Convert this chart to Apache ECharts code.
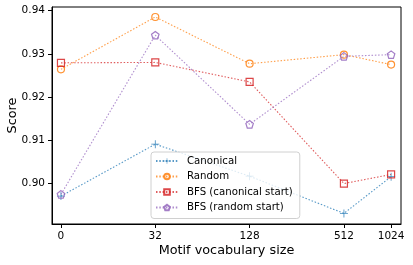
<!DOCTYPE html>
<html><head><meta charset="utf-8">
<script src="https://cdn.jsdelivr.net/npm/echarts@6/dist/echarts.min.js"></script>
<style>html,body{margin:0;padding:0;background:#fff}#c{width:413px;height:265px}</style>
</head><body><div id="c"></div>
<script>
var vocabSizes = [0, 32, 128, 512, 1024];
var yTicks = [0.90, 0.91, 0.92, 0.93, 0.94];
var seriesNames = ['Canonical', 'Random', 'BFS (canonical start)', 'BFS (random start)'];
var canonical = [0.8971, 0.9091, 0.9017, 0.8931, 0.9016];
var random = [0.9264, 0.9385, 0.9277, 0.9298, 0.9275];
var bfsCanonical = [0.9279, 0.9280, 0.9235, 0.9000, 0.9021];
var bfsRandom = [0.8975, 0.9343, 0.9137, 0.9294, 0.9298];
var colors = ['#1f77b4', '#ff7f0e', '#d62728', '#9467bd'];

// symlog-like base-2 scale: 0 sits two octaves left of 32
function xPos(v) { return v === 0 ? 3 : Math.log2(v); }
function xLabel(p) {
  for (var i = 0; i < vocabSizes.length; i++) if (Math.abs(xPos(vocabSizes[i]) - p) < 1e-6) return String(vocabSizes[i]);
  return '';
}
var plusPath = 'path://M-0.1,-1 L0.1,-1 L0.1,-0.1 L1,-0.1 L1,0.1 L0.1,0.1 L0.1,1 L-0.1,1 L-0.1,0.1 L-1,0.1 L-1,-0.1 L-0.1,-0.1 Z';
var pentPath = 'path://M0,-1 L0.951,-0.309 L0.588,0.809 L-0.588,0.809 L-0.951,-0.309 Z';
var symbols = [plusPath, 'circle', 'rect', pentPath];
var sizes = [8, 7, 7, 7.5];
var allData = [canonical, random, bfsCanonical, bfsRandom];

var series = allData.map(function (vals, i) {
  var hollow = i > 0;
  return {
    name: seriesNames[i], type: 'line',
    data: vals.map(function (v, j) { return [xPos(vocabSizes[j]), v]; }),
    symbol: symbols[i], symbolSize: sizes[i], showAllSymbol: true,
    lineStyle: { color: colors[i], width: 1.1, type: [1.5, 1.8], opacity: 0.75 },
    itemStyle: hollow ? { color: 'rgba(255,255,255,0)', borderColor: colors[i], borderWidth: 1.2, opacity: 0.85 }
                      : { color: colors[i], borderWidth: 0, opacity: 0.85 },
    emphasis: { disabled: true },
    z: 2 + i
  };
});

var chart = echarts.init(document.getElementById('c'), null, { renderer: 'canvas' });
chart.setOption({
  animation: false,
  textStyle: { fontFamily: 'DejaVu Sans' },
  grid: { left: 52, right: 12, top: 7, bottom: 41, containLabel: false, outerBoundsMode: 'none',
          show: true, borderColor: '#000', borderWidth: 1, backgroundColor: 'transparent' },
  xAxis: {
    type: 'value', min: 2.81, max: 10.21,
    name: 'Motif vocabulary size', nameLocation: 'middle', nameGap: 20, nameMoveOverlap: false,
    nameTextStyle: { fontSize: 12.8, color: '#000', fontFamily: 'DejaVu Sans' },
    axisLine: { lineStyle: { color: '#000', width: 1 } },
    axisTick: { show: true, length: 4, lineStyle: { color: '#000' }, customValues: vocabSizes.map(xPos) },
    axisLabel: { color: '#000', fontSize: 10.5, margin: 7, customValues: vocabSizes.map(xPos), formatter: xLabel, fontFamily: 'DejaVu Sans' },
    splitLine: { show: false }
  },
  yAxis: {
    type: 'value', min: 0.89065, max: 0.94081,
    name: 'Score', nameLocation: 'middle', nameGap: 33, nameMoveOverlap: false,
    nameTextStyle: { fontSize: 12.8, color: '#000', fontFamily: 'DejaVu Sans' },
    axisLine: { show: true, lineStyle: { color: '#000', width: 1 } },
    axisTick: { show: true, length: 4, lineStyle: { color: '#000' }, customValues: yTicks },
    axisLabel: { color: '#000', fontSize: 10.5, margin: 7, customValues: yTicks, formatter: function (v) { return v.toFixed(2); }, fontFamily: 'DejaVu Sans' },
    splitLine: { show: false }
  },
  legend: {
    data: seriesNames, orient: 'vertical', left: 151, top: 152,
    itemWidth: 22, itemHeight: 7, itemGap: 5.5,
    padding: [4, 7, 6, 4],
    backgroundColor: 'rgba(255,255,255,0.8)', borderColor: '#d0d0d0', borderWidth: 1, borderRadius: 3,
    textStyle: { fontSize: 10.2, color: '#000', fontFamily: 'DejaVu Sans', padding: [0, 0, 0, 4] }
  },
  series: series
});
</script></body></html>
